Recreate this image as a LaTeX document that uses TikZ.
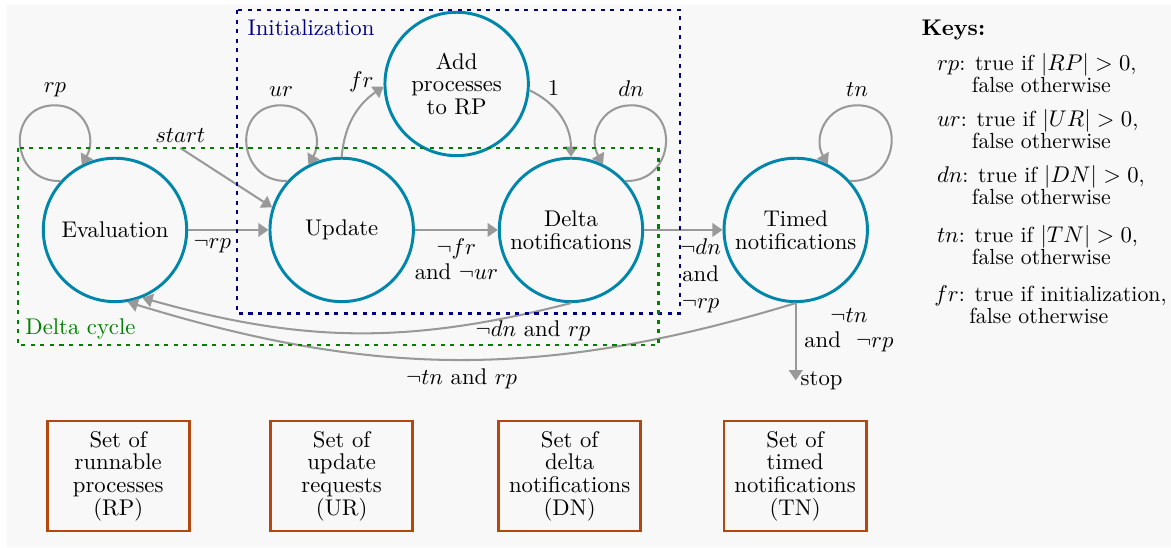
\documentclass[tikz,border=0pt]{standalone}
\usepackage{amsmath, amssymb}
\usepackage{tikz}
\usetikzlibrary{arrows.meta}

\definecolor{statecol}{RGB}{0,134,170}
\definecolor{setcol}{RGB}{178,72,14}
\definecolor{arrcol}{RGB}{153,153,153}
\definecolor{initcol}{RGB}{0,0,128}
\definecolor{cyclecol}{RGB}{0,128,0}
\definecolor{bgcol}{RGB}{248,248,248}

\begin{document}
\begin{tikzpicture}[font=\fontsize{10}{10}\selectfont,
        state/.style={circle, draw=statecol, line width=1.3pt, minimum size=2.22cm, align=center, inner sep=1pt},
        set/.style={rectangle, draw=setcol, line width=1.2pt, minimum width=2.2cm, minimum height=1.7cm, align=center},
        arr/.style={draw=arrcol, line width=0.9pt, -{Triangle[length=4.5pt, width=6pt]}},
        region/.style={line width=1.2pt, dash pattern=on 1.8pt off 2.4pt},
        key/.style={anchor=west, inner sep=0pt, align=left, font=\fontsize{9.6}{9.8}\selectfont}]
        \useasboundingbox (0,0) rectangle (18.13,-8.47);
        \fill[bgcol] (0.11,-0.08) rectangle (18.13,-8.47);

        % States
        \node[state] (eval) at (1.78,-3.56) {Evaluation};
        \node[state] (update) at (5.29,-3.56) {Update};
        \node[state] (add) at (7.07,-1.30) {Add\\processes\\to RP};
        \node[state] (delta) at (8.84,-3.56) {Delta\\notifications};
        \node[state] (timed) at (12.32,-3.56) {Timed\\notifications};

        \node[inner sep=2pt, anchor=south] (start) at (2.79,-2.29) {$start$};
        \coordinate (stop) at (12.32,-5.89);
        \node[right, inner sep=2pt] (stoplbl) at (stop) {stop};

        % Sets
        \node[set] (rpset) at (1.83,-7.37) {Set of\\runnable\\processes\\(RP)};
        \node[set] (urset) at (5.29,-7.37) {Set of\\update\\requests\\(UR)};
        \node[set] (dnset) at (8.82,-7.37) {Set of\\delta\\notifications\\(DN)};
        \node[set] (tnset) at (12.31,-7.37) {Set of\\timed\\notifications\\(TN)};

        % Loops
        \coordinate (rptop) at (0.85,-1.63);
        \coordinate (urtop) at (4.35,-1.63);
        \coordinate (dntop) at (9.77,-1.63);
        \coordinate (tntop) at (13.27,-1.63);
        \draw[arr] (eval.138) to[out=182, in=180, looseness=1.7] (rptop) node[above] {$rp$}
            to[out=0, in=60, looseness=1.2] (eval.117);
        \draw[arr] (update.138) to[out=182, in=180, looseness=1.7] (urtop) node[above] {$ur$}
            to[out=0, in=60, looseness=1.2] (update.117);
        \draw[arr] (delta.42) to[out=-2, in=0, looseness=1.7] (dntop) node[above] {$dn$}
            to[out=180, in=120, looseness=1.2] (delta.64);
        \draw[arr] (timed.42) to[out=-2, in=0, looseness=1.7] (tntop) node[above] {$tn$}
            to[out=180, in=120, looseness=1.2] (timed.64);

        % Transitions
        \draw[arr] (start.south) -- (update.162);
        \draw[arr] (eval) -- node[below, pos=0.3] {$\neg rp$} (update);
        \draw[arr] (update) -- node[below, align=center] {$\neg fr$\\[1pt]and $\neg ur$} (delta);
        \draw[arr] (update.north) to[out=85, in=215] node[above left, pos=0.88, inner sep=0pt] {$fr$} (add.182);
        \draw[arr] (add.-5) to[out=-25, in=90] node[above right, pos=0.2, inner sep=1pt] {$1$} (delta.north);
        \draw[arr] (delta) -- node[below, pos=0.72, align=center] {$\neg dn$\\[2pt]and\\[2pt]$\neg rp$} (timed);
        \draw[arr] (delta.south) to[bend left=15] node[below, pos=0.08] {$\neg dn$ and $rp$} (eval.-68);
        \draw[arr] (timed.south) to[bend left=17] node[below] {$\neg tn$ and $rp$} (eval.-80);
        \draw[arr] (timed.south) -- node[right, pos=0.35, align=center] {$\neg tn$\\[1pt]and~ $\neg rp$} (stop);

        % Regions
        \draw[region, draw=initcol] (3.67,-0.155) rectangle (10.53,-4.85);
        \draw[region, draw=cyclecol] (0.28,-2.29) rectangle (10.19,-5.34);
        \node[anchor=west, text=initcol] (initlbl) at (3.71,-0.43) {Initialization};
        \node[anchor=west, text=cyclecol] (cyclelbl) at (0.27,-5.10) {Delta cycle};

        % Keys
        \node[anchor=west, inner sep=0pt] (keys) at (14.26,-0.46) {\textbf{Keys:}};
        \node[key] (keyrp) at (14.50,-1.13) {$rp$: true if $|RP| > 0$,\\\hspace*{1.6em}false otherwise};
        \node[key] (keyur) at (14.50,-2.00) {$ur$: true if $|UR| > 0$,\\\hspace*{1.6em}false otherwise};
        \node[key] (keydn) at (14.50,-2.87) {$dn$: true if $|DN| > 0$,\\\hspace*{1.6em}false otherwise};
        \node[key] (keytn) at (14.50,-3.79) {$tn$: true if $|TN| > 0$,\\\hspace*{1.6em}false otherwise};
        \node[key] (keyfr) at (14.46,-4.72) {$fr$: true if initialization,\\\hspace*{1.6em}false otherwise};
    \end{tikzpicture}
\end{document}
